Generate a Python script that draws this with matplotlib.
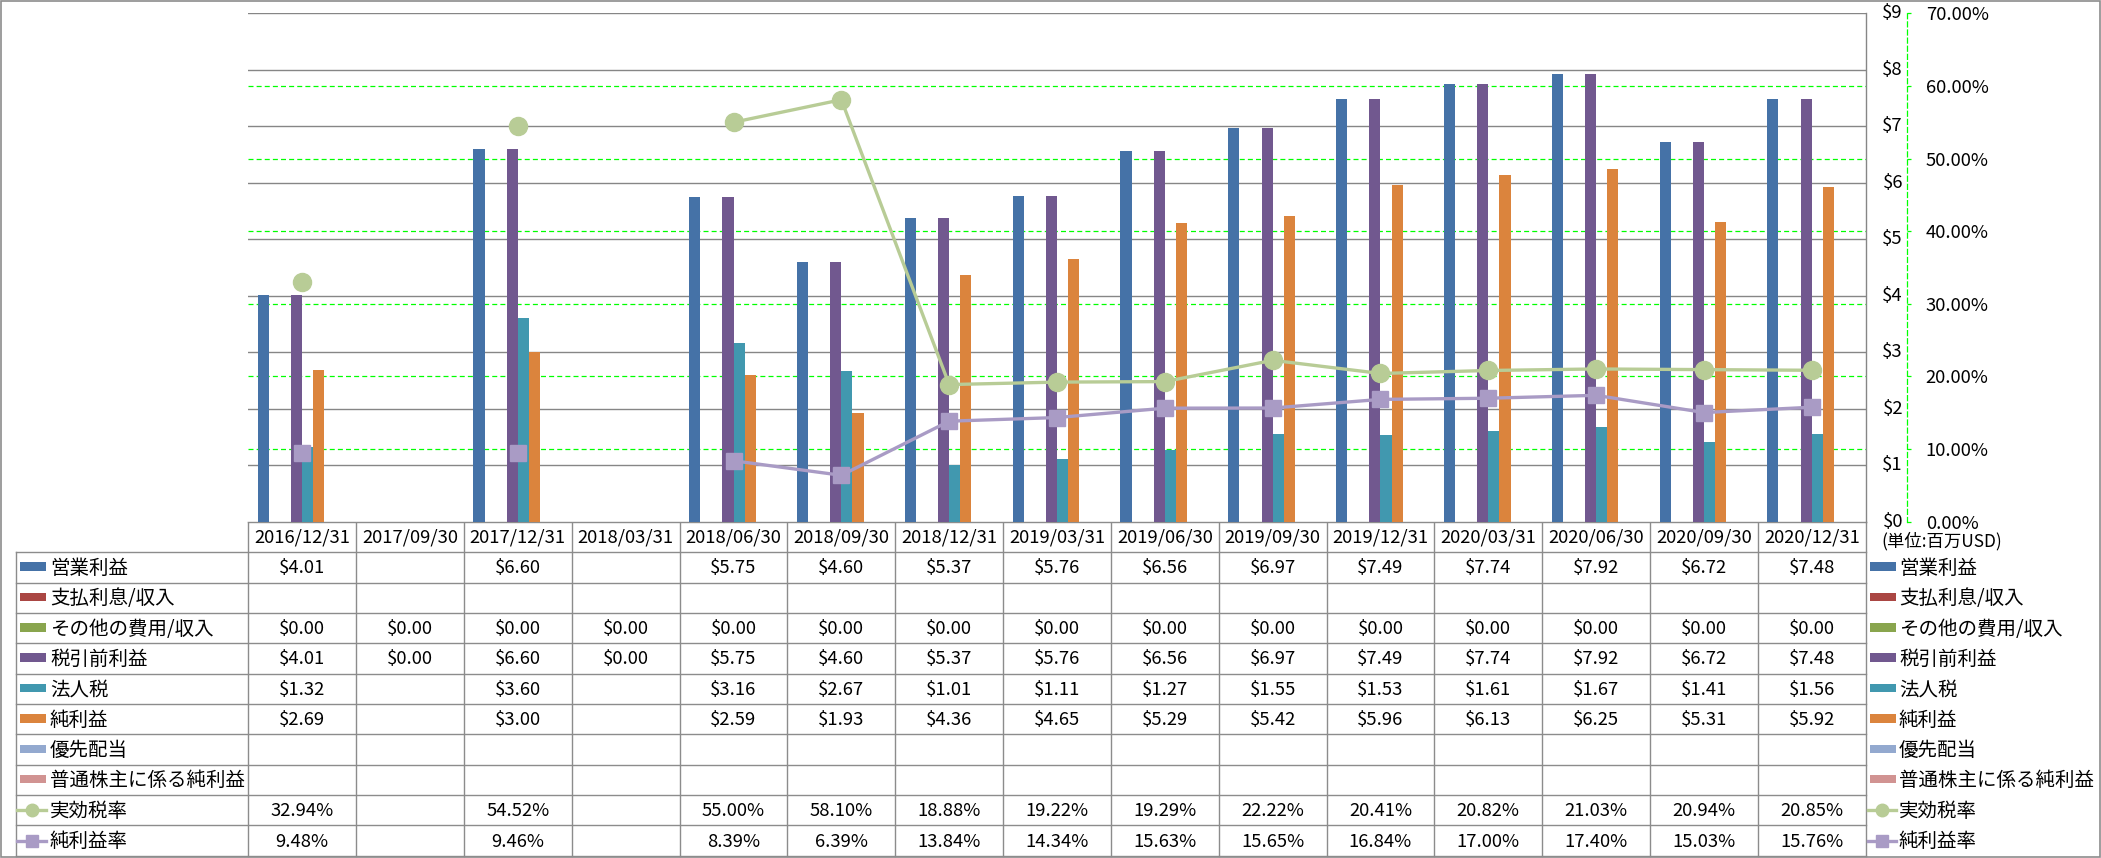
import numpy as np
import matplotlib
matplotlib.use("Agg")
import matplotlib.pyplot as plt
from matplotlib.patches import Rectangle
from matplotlib.lines import Line2D
from matplotlib.transforms import blended_transform_factory
from matplotlib.ticker import FuncFormatter

plt.rcParams['font.family'] = ['Noto Sans CJK JP', 'DejaVu Sans']

nan = np.nan
dates = ['2016/12/31', '2017/09/30', '2017/12/31', '2018/03/31', '2018/06/30',
         '2018/09/30', '2018/12/31', '2019/03/31', '2019/06/30', '2019/09/30',
         '2019/12/31', '2020/03/31', '2020/06/30', '2020/09/30', '2020/12/31']

operating_income = [4.01, nan, 6.60, nan, 5.75, 4.60, 5.37, 5.76, 6.56, 6.97, 7.49, 7.74, 7.92, 6.72, 7.48]
interest = [nan] * 15
other = [0.0] * 15
pretax_income = [4.01, 0.0, 6.60, 0.0, 5.75, 4.60, 5.37, 5.76, 6.56, 6.97, 7.49, 7.74, 7.92, 6.72, 7.48]
income_tax = [1.32, nan, 3.60, nan, 3.16, 2.67, 1.01, 1.11, 1.27, 1.55, 1.53, 1.61, 1.67, 1.41, 1.56]
net_income = [2.69, nan, 3.00, nan, 2.59, 1.93, 4.36, 4.65, 5.29, 5.42, 5.96, 6.13, 6.25, 5.31, 5.92]
preferred_div = [nan] * 15
common_net = [nan] * 15
effective_tax_rate = [32.94, nan, 54.52, nan, 55.00, 58.10, 18.88, 19.22, 19.29, 22.22, 20.41, 20.82, 21.03, 20.94, 20.85]
net_margin = [9.48, nan, 9.46, nan, 8.39, 6.39, 13.84, 14.34, 15.63, 15.65, 16.84, 17.00, 17.40, 15.03, 15.76]

bar_names = ['営業利益', '支払利息/収入', 'その他の費用/収入', '税引前利益', '法人税', '純利益', '優先配当', '普通株主に係る純利益']
bar_values = [operating_income, interest, other, pretax_income, income_tax, net_income, preferred_div, common_net]
bar_colors = ['#4572A7', '#AA4643', '#89A54E', '#71588F', '#4198AF', '#DB843D', '#93A9CF', '#D19392']
line_names = ['実効税率', '純利益率']
line_values = [effective_tax_rate, net_margin]
line_colors = ['#B8CC96', '#A99BC5']
line_markers = ['o', 's']

dollar_ticks = [0, 1, 2, 3, 4, 5, 6, 7, 8, 9]
pct_ticks = [0, 10, 20, 30, 40, 50, 60, 70]
pct_grid = [10, 20, 30, 40, 50, 60]
unit_label = '(単位:百万USD)'

# ---------------- layout (pixels) ----------------
W, H = 2101, 858
L, R, T, B = 248.3, 1865.7, 13.3, 521.7
TL = 15.7          # table left
ROW0 = 552.3       # first data row top
ROWH = 30.34
GRAY = '#8c8c8c'
GREEN = '#00FF00'
FS_NUM = 13.3
FS_LAB = 14

fig = plt.figure(figsize=(W / 100, H / 100), dpi=100)

# table / frame axes in pixel coordinates
tax = fig.add_axes([0, 0, 1, 1], zorder=0)
tax.set_xlim(0, W)
tax.set_ylim(H, 0)
tax.axis('off')

rect = [L / W, 1 - B / H, (R - L) / W, (B - T) / H]
n = len(dates)
x = np.arange(n)

# percent axis (green grid + right axis)
axp = fig.add_axes(rect, zorder=1)
axp.set_xlim(-0.5, n - 0.5)
axp.set_ylim(0, 70)
axp.set_xticks([])

# bar axis
axb = axp.twinx()
axb.set_zorder(2)
axb.patch.set_visible(False)
# line axis
axl = axp.twinx()
axl.set_zorder(3)
axl.patch.set_visible(False)

for s in ['top', 'left', 'bottom']:
    axp.spines[s].set_visible(False)
for g in pct_grid:
    axp.axhline(g, color=GREEN, lw=0.9, ls=(0, (4, 2.5)), zorder=0)
axp.yaxis.tick_right()
axp.yaxis.set_label_position('right')
axp.set_yticks(pct_ticks)
axp.yaxis.set_major_formatter(FuncFormatter(lambda v, p: f'{v:.2f}%'))
axp.spines['right'].set_visible(True)
axp.spines['right'].set_position(('outward', (1907 - R) * 0.72))
axp.spines['right'].set_color(GREEN)
axp.spines['right'].set_linestyle((0, (4, 2.5)))
axp.spines['right'].set_linewidth(0.9)
axp.tick_params(axis='y', which='both', left=False, labelleft=False, right=True, labelright=True,
                direction='out', length=3, width=0.9, color=GREEN,
                pad=10.5, labelsize=FS_NUM)

axb.set_ylim(0, 9)
axb.set_yticks(dollar_ticks)
axb.tick_params(axis='y', length=0, labelright=False, labelleft=False)
axb.set_axisbelow(True)
axb.grid(axis='y', color='#868686', lw=1.0)
for s in ['top', 'left', 'bottom']:
    axb.spines[s].set_visible(False)
axb.spines['right'].set_color('#868686')
axb.spines['right'].set_linewidth(1.0)

bw = 0.103
nb = len(bar_values)
for i, (vals, col) in enumerate(zip(bar_values, bar_colors)):
    axb.bar(x + (i - (nb - 1) / 2) * bw, vals, bw, color=col, linewidth=0)

trans = blended_transform_factory(axb.transAxes, axb.transData)
xf = (1903 - L) / (R - L)
for v in dollar_ticks:
    axb.text(xf, v, f'${v}', transform=trans, ha='right', va='center',
             fontsize=FS_NUM, clip_on=False)

axl.set_ylim(0, 70)
axl.set_yticks([])
for s in axl.spines.values():
    s.set_visible(False)
for vals, col, mk in zip(line_values, line_colors, line_markers):
    axl.plot(x, vals, color=col, lw=2.4, marker=mk, markersize=13 if mk == 'o' else 12,
             markerfacecolor=col, markeredgecolor=col, solid_capstyle='round')

# ---------------- table ----------------
colw = (R - L) / n
col_edges = [L + colw * k for k in range(n + 1)]
nrows = len(bar_names) + len(line_names)
tb = ROW0 + ROWH * nrows

tax.plot([L, R], [B, B], color=GRAY, lw=1.0)
for xe in col_edges:
    tax.plot([xe, xe], [B, tb], color=GRAY, lw=1.0)
tax.plot([TL, TL], [ROW0, tb], color=GRAY, lw=1.0)
for j in range(nrows + 1):
    yy = ROW0 + ROWH * j
    tax.plot([TL, R], [yy, yy], color=GRAY, lw=1.0)

for k, d in enumerate(dates):
    tax.text(L + colw * (k + 0.5), (B + ROW0) / 2 + 1, d, ha='center', va='center', fontsize=FS_NUM)

all_names = bar_names + line_names
for j, name in enumerate(all_names):
    cy = ROW0 + ROWH * (j + 0.5)
    if j < len(bar_names):
        tax.add_patch(Rectangle((20, cy - 5), 26, 8.5, color=bar_colors[j], lw=0))
        tax.add_patch(Rectangle((1870, cy - 5), 26, 8.5, color=bar_colors[j], lw=0))
        vals = bar_values[j]
        fmt = lambda v: f'${v:.2f}'
    else:
        li = j - len(bar_names)
        for x0, x1 in [(17, 46), (1868, 1896)]:
            tax.add_line(Line2D([x0, x1], [cy, cy], color=line_colors[li], lw=2.4))
            tax.add_line(Line2D([(x0 + x1) / 2], [cy], color=line_colors[li],
                                marker=line_markers[li], markersize=9 if li == 0 else 8.5,
                                markerfacecolor=line_colors[li], markeredgecolor=line_colors[li]))
        vals = line_values[li]
        fmt = lambda v: f'{v:.2f}%'
    tax.text(50, cy + 1, name, ha='left', va='center', fontsize=FS_LAB)
    tax.text(1899, cy + 1, name, ha='left', va='center', fontsize=FS_LAB)
    for k, v in enumerate(vals):
        if not np.isnan(v):
            tax.text(L + colw * (k + 0.5), cy + 1, fmt(v), ha='center', va='center', fontsize=FS_NUM)

tax.text(1881, 541, unit_label, ha='left', va='center', fontsize=12.5)

# outer frame
tax.add_patch(Rectangle((0.5, 0.5), W - 2, H - 2, fill=False, edgecolor=GRAY, lw=1.2))

fig.savefig('out.png', dpi=100)
